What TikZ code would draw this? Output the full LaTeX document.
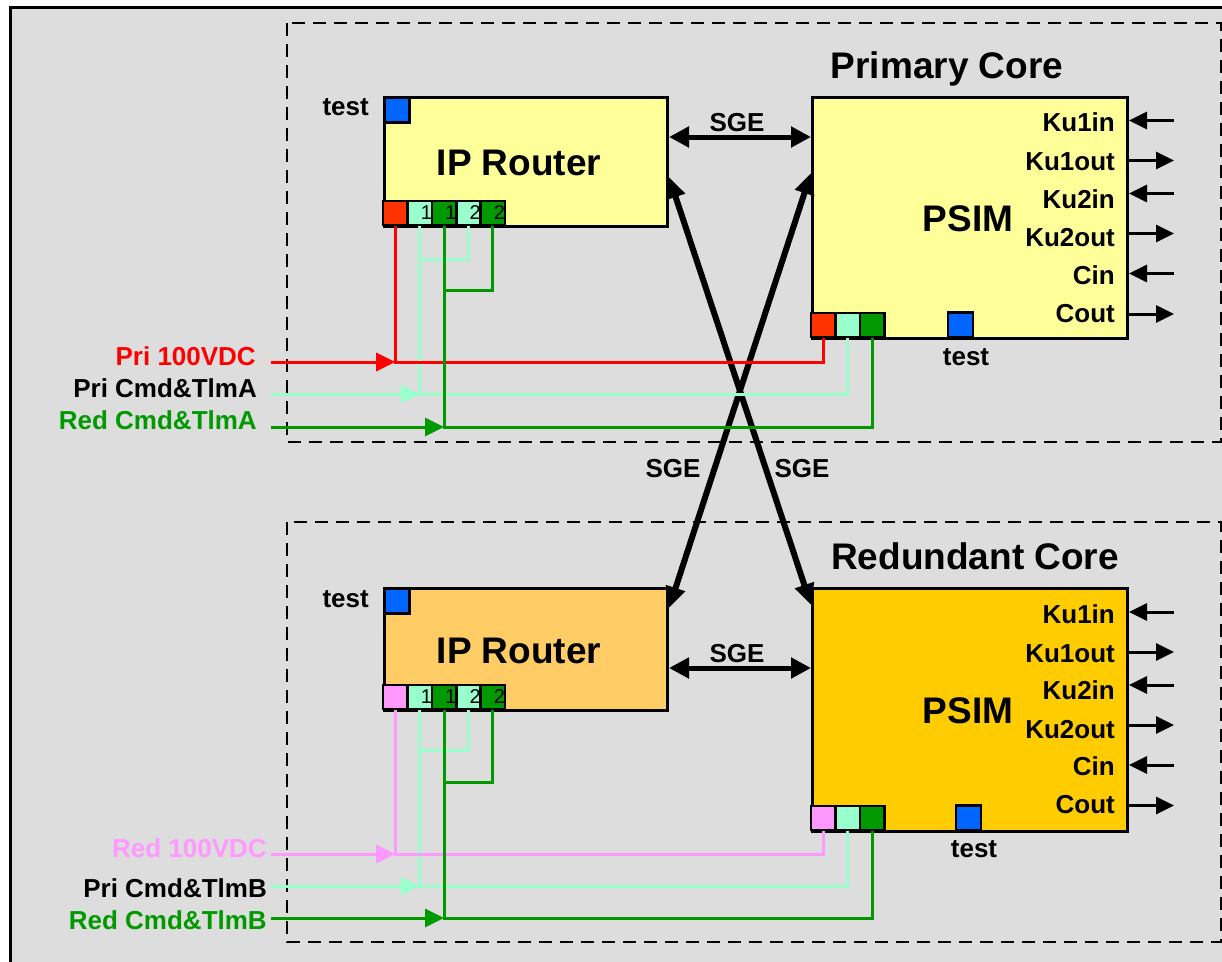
\documentclass[tikz,border=0pt]{standalone}
\usepackage{fontspec}
\setmainfont{Liberation Sans}
\usetikzlibrary{arrows.meta,calc}
\definecolor{bg}{HTML}{DDDDDD}
\definecolor{yel}{HTML}{FFFF99}
\definecolor{org}{HTML}{FFCC66}
\definecolor{gold}{HTML}{FFCC00}
\definecolor{pred}{HTML}{FF3300}
\definecolor{lgr}{HTML}{99FFCC}
\definecolor{dgr}{HTML}{009900}
\definecolor{pblue}{HTML}{0066FF}
\definecolor{pnk}{HTML}{FF99FF}
\definecolor{lred}{HTML}{FF0000}
\begin{document}
\begin{tikzpicture}[x=1pt,y=-1pt,
 big/.style={font=\fontsize{37}{40}\selectfont\bfseries, inner sep=0pt},
 lbl/.style={font=\fontsize{26}{28}\selectfont\bfseries, inner sep=0pt},
 num/.style={font=\fontsize{20}{20}\selectfont, inner sep=1pt},
 blk/.style={draw, line width=3pt, inner sep=0pt, anchor=north west},
 port/.style={draw, line width=2.6pt, minimum width=24.4pt, minimum height=24pt, inner sep=0pt},
 tsq/.style={port, fill=pblue, minimum width=25pt, minimum height=25pt},
 sig/.style={line width=3pt},
 sigarr/.style={sig, -{Triangle[length=19pt,width=18pt]}},
 io/.style={line width=3pt, -{Triangle[length=18pt,width=17pt]}},
 sge/.style={line width=5pt, {Triangle[length=20pt,width=20pt]}-{Triangle[length=20pt,width=20pt]}},
 xsge/.style={line width=6pt, {Triangle[length=21pt,width=19pt]}-{Triangle[length=21pt,width=19pt]}},
 dbox/.style={draw, line width=2.6pt, dash pattern=on 13pt off 8pt},
]
\useasboundingbox (0,0) rectangle (1222,961);
\clip (0,0) rectangle (1222,961);
\fill[white] (0,0) rectangle (1222,961);
\filldraw[fill=bg, line width=3pt] (10,7) rectangle (1240,990);
\draw[dbox] (287,23) rectangle (1221,442);
\draw[dbox] (287,522) rectangle (1221,942);

% titles
\node[big, anchor=base] (tA) at (947,78) {Primary Core};
\node[big, anchor=base] (tB) at (975,569) {Redundant Core};

% main blocks
\node[blk, fill=yel, minimum width=283pt, minimum height=129pt] (ipA) at (383,96) {};
\node[blk, fill=yel, minimum width=315pt, minimum height=241pt] (psA) at (811,96) {};
\node[blk, fill=org, minimum width=283pt, minimum height=122pt] (ipB) at (383,587) {};
\node[blk, fill=gold, minimum width=315pt, minimum height=243pt] (psB) at (811,587) {};

\node[big, anchor=base] (ipAt) at (519,175) {IP Router};
\node[big, anchor=base] (psAt) at (968,231) {PSIM};
\node[big, anchor=base] (ipBt) at (519,663) {IP Router};
\node[big, anchor=base] (psBt) at (968,723) {PSIM};

% test squares
\node[tsq, anchor=north west] (tsA) at (383,96) {};
\node[tsq, anchor=north west] (tsB) at (383,587) {};
\node[tsq] (tsPA) at (960.5,325) {};
\node[tsq] (tsPB) at (968.5,818) {};
\node[lbl, anchor=base east] (ltA) at (369,115) {test};
\node[lbl, anchor=base east] (ltB) at (369,607) {test};
\node[lbl, anchor=base] (ltPA) at (966,365) {test};
\node[lbl, anchor=base] (ltPB) at (974,857) {test};

% ports
\foreach \i/\c in {1/pred,2/lgr,3/dgr,4/lgr,5/dgr}
  \node[port, fill=\c] (pA\i) at ({395.2+24.4*(\i-1)},213) {};
\foreach \i/\c in {1/pnk,2/lgr,3/dgr,4/lgr,5/dgr}
  \node[port, fill=\c] (pB\i) at ({395.2+24.4*(\i-1)},697) {};
\foreach \i/\c in {1/pred,2/lgr,3/dgr}
  \node[port, fill=\c] (qA\i) at ({823.2+24.4*(\i-1)},325) {};
\foreach \i/\c in {1/pnk,2/lgr,3/dgr}
  \node[port, fill=\c] (qB\i) at ({823.2+24.4*(\i-1)},818) {};
\foreach \r in {A,B}{
  \node[num, anchor=east] at (p\r2.east) {1};
  \node[num, anchor=east] at (p\r3.east) {1};
  \node[num, anchor=east] at (p\r4.east) {2};
  \node[num, anchor=east] at (p\r5.east) {2};
}

% SGE links
\draw[sge] (ipA.east |- 0,137) -- (psA.west |- 0,137);
\node[lbl, anchor=base] (sg1) at (737,131) {SGE};
\draw[sge] (ipB.east |- 0,668) -- (psB.west |- 0,668);
\node[lbl, anchor=base] (sg2) at (737,662) {SGE};
\draw[xsge] (ipA.east |- 0,177) -- (psB.west |- 0,605);
\draw[xsge] (ipB.east |- 0,608) -- (psA.west |- 0,173);
\node[lbl, anchor=base] (sg3) at (673,477) {SGE};
\node[lbl, anchor=base] (sg4) at (802,477) {SGE};

% PSIM I/O
\foreach \ps/\dy in {psA/0,psB/491.5}{
  \draw[io] (1174,120.5+\dy) -- (\ps.east |- 0,120.5+\dy);
  \draw[io] (\ps.east |- 0,160.5+\dy) -- (1174,160.5+\dy);
  \draw[io] (1174,193.5+\dy) -- (\ps.east |- 0,193.5+\dy);
  \draw[io] (\ps.east |- 0,233.5+\dy) -- (1174,233.5+\dy);
  \draw[io] (1174,273.5+\dy) -- (\ps.east |- 0,273.5+\dy);
  \draw[io] (\ps.east |- 0,314+\dy) -- (1174,314+\dy);
  \node[lbl, anchor=base east] at (1115,131.7+\dy) {Ku1in};
  \node[lbl, anchor=base east] at (1115,170.7+\dy) {Ku1out};
  \node[lbl, anchor=base east] at (1115,208.3+\dy) {Ku2in};
  \node[lbl, anchor=base east] at (1115,246.7+\dy) {Ku2out};
  \node[lbl, anchor=base east] at (1115,284+\dy) {Cin};
  \node[lbl, anchor=base east] at (1115,322.3+\dy) {Cout};
}

% signal labels
\node[lbl, anchor=base east, text=lred] (lA1) at (256,365) {Pri 100VDC};
\node[lbl, anchor=base east] (lA2) at (257,397) {Pri Cmd\&TlmA};
\node[lbl, anchor=base east, text=dgr] (lA3) at (257,429) {Red Cmd\&TlmA};
\node[lbl, anchor=base east, text=pnk] (lB1) at (267,857) {Red 100VDC};
\node[lbl, anchor=base east] (lB2) at (267,897) {Pri Cmd\&TlmB};
\node[lbl, anchor=base east, text=dgr] (lB3) at (267,929) {Red Cmd\&TlmB};

\coordinate (sA1) at (271,362);
\coordinate (sA2) at (271,394);
\coordinate (sA3) at (271,427);
\coordinate (sB1) at (271,854);
\coordinate (sB2) at (271,886);
\coordinate (sB3) at (271,918);

% top signals
\draw[sig, lgr] (pA4.south) -- ++(0,33) -| (pA2.south);
\draw[sig, lgr] (pA2.south) |- (sA2 -| qA2.south) -- (qA2.south);
\draw[sigarr, lgr] (sA2) -- (sA2 -| pA2.south);
\draw[sig, lred] (pA1.south) |- (sA1 -| qA1.south) -- (qA1.south);
\draw[sigarr, lred] (sA1) -- (sA1 -| pA1.south);
\draw[sig, dgr] (pA5.south) -- ++(0,64) -| (pA3.south);
\draw[sig, dgr] (pA3.south) |- (sA3 -| qA3.south) -- (qA3.south);
\draw[sigarr, dgr] (sA3) -- (sA3 -| pA3.south);

% bottom signals
\draw[sig, lgr] (pB4.south) -- ++(0,40) -| (pB2.south);
\draw[sig, lgr] (pB2.south) |- (sB2 -| qB2.south) -- (qB2.south);
\draw[sigarr, lgr] (sB2) -- (sB2 -| pB2.south);
\draw[sig, pnk] (pB1.south) |- (sB1 -| qB1.south) -- (qB1.south);
\draw[sigarr, pnk] (sB1) -- (sB1 -| pB1.south);
\draw[sig, dgr] (pB5.south) -- ++(0,72) -| (pB3.south);
\draw[sig, dgr] (pB3.south) |- (sB3 -| qB3.south) -- (qB3.south);
\draw[sigarr, dgr] (sB3) -- (sB3 -| pB3.south);
\end{tikzpicture}
\end{document}
